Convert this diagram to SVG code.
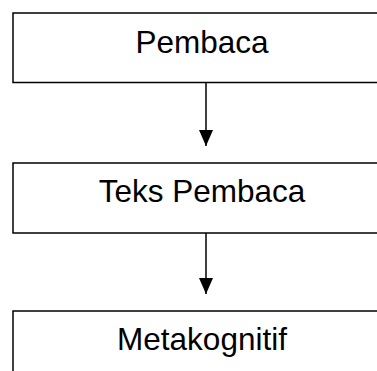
<svg xmlns="http://www.w3.org/2000/svg" width="377" height="371" viewBox="0 0 377 371">
<defs>
<style>
.box{fill:#fff;stroke:#000;stroke-width:1.5}
.lbl{font-family:"Liberation Sans",Arial,sans-serif;font-size:31.5px;fill:#000;text-anchor:middle}
.conn{stroke:#000;stroke-width:1.5;fill:none;marker-end:url(#ah)}
</style>
<marker id="ah" markerWidth="16" markerHeight="14" refX="16" refY="7" orient="auto" markerUnits="userSpaceOnUse" viewBox="0 0 16 14">
<path d="M0,0 L16,7 L0,14 Z" fill="#000"/>
</marker>
</defs>
<rect width="377" height="371" fill="#fff"/>
<g id="connectors">
<line class="conn" x1="206" y1="83" x2="206" y2="146"/>
<line class="conn" x1="206" y1="233" x2="206" y2="294"/>
</g>
<g id="node-pembaca">
<rect class="box" x="13" y="13" width="380" height="69.5"/>
<text class="lbl" x="202" y="52.5">Pembaca</text>
</g>
<g id="node-teks-pembaca">
<rect class="box" x="13" y="163" width="380" height="70"/>
<text class="lbl" x="202" y="201.5">Teks Pembaca</text>
</g>
<g id="node-metakognitif">
<rect class="box" x="13" y="311" width="380" height="80"/>
<text class="lbl" x="202" y="350">Metakognitif</text>
</g>
</svg>
